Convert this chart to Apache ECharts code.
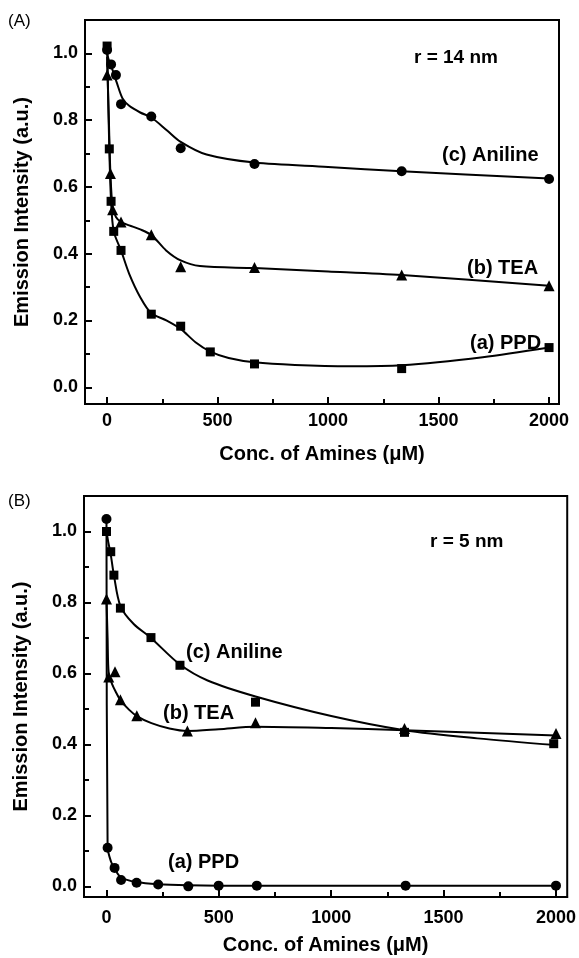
<!DOCTYPE html>
<html>
<head>
<meta charset="utf-8">
<script src="https://cdn.jsdelivr.net/npm/echarts@6/dist/echarts.min.js"></script>
<style>
html,body{margin:0;padding:0;background:#fff;}
#c{width:579px;height:958px;}
</style>
</head>
<body>
<div id="c"></div>
<script>
// ---- tick labels ----
const xMajor = [0, 500, 1000, 1500, 2000];
const xMinor = [250, 750, 1250, 1750];
const yMajor = [0, 0.2, 0.4, 0.6, 0.8, 1.0];
const yMinor = [0.1, 0.3, 0.5, 0.7, 0.9];

// ---- Panel A (r = 14 nm): measured points ----
const aPpdX = [0, 10, 18, 30, 63, 200, 333, 467, 667, 1333, 2000];
const aPpdY = [1.022, 0.714, 0.557, 0.467, 0.41, 0.219, 0.183, 0.106, 0.07, 0.056, 0.119];
const aTeaX = [0, 15, 25, 63, 200, 333, 667, 1333, 2000];
const aTeaY = [0.935, 0.64, 0.532, 0.495, 0.457, 0.361, 0.359, 0.336, 0.304];
const aAniX = [0, 18, 40, 63, 200, 333, 667, 1333, 2000];
const aAniY = [1.01, 0.967, 0.935, 0.848, 0.811, 0.716, 0.669, 0.647, 0.624];
// ---- Panel A: fitted curves ----
const aPpdFitX = [0, 10, 18, 30, 63, 100, 150, 200, 270, 333, 400, 467, 550, 667, 850, 1100, 1333, 1700, 2000];
const aPpdFitY = [1.02, 0.714, 0.557, 0.467, 0.41, 0.34, 0.27, 0.222, 0.2, 0.175, 0.135, 0.107, 0.088, 0.075, 0.067, 0.063, 0.066, 0.09, 0.119];
const aTeaFitX = [0, 8, 15, 25, 40, 63, 100, 150, 202, 267, 333, 420, 667, 1000, 1333, 2000];
const aTeaFitY = [0.99, 0.8, 0.64, 0.54, 0.51, 0.495, 0.485, 0.473, 0.455, 0.41, 0.38, 0.363, 0.357, 0.347, 0.336, 0.304];
const aAniFitX = [0, 10, 25, 45, 70, 100, 150, 200, 270, 333, 450, 667, 1000, 1333, 2000];
const aAniFitY = [1.0, 0.975, 0.95, 0.91, 0.865, 0.843, 0.823, 0.808, 0.77, 0.735, 0.697, 0.673, 0.66, 0.647, 0.625];

// ---- Panel B (r = 5 nm): measured points ----
const bPpdX = [0, 5, 36, 65, 134, 230, 364, 499, 669, 1331, 2000];
const bPpdY = [1.035, 0.109, 0.052, 0.018, 0.01, 0.005, 0.0, 0.002, 0.002, 0.002, 0.002];
const bTeaX = [0, 10, 38, 62, 135, 360, 663, 1326, 2000];
const bTeaY = [0.81, 0.59, 0.605, 0.526, 0.481, 0.438, 0.461, 0.445, 0.431];
const bAniX = [0, 19, 33, 62, 198, 327, 663, 1326, 1990];
const bAniY = [1.0, 0.943, 0.877, 0.784, 0.701, 0.623, 0.519, 0.434, 0.402];
// ---- Panel B: fitted curves ----
const bPpdFitX = [0, 5, 20, 36, 65, 134, 230, 364, 500, 669, 1331, 2000];
const bPpdFitY = [1.035, 0.11, 0.07, 0.05, 0.025, 0.012, 0.006, 0.003, 0.002, 0.002, 0.002, 0.002];
const bTeaFitX = [0, 5, 10, 25, 40, 62, 100, 135, 200, 280, 360, 500, 663, 1000, 1326, 2000];
const bTeaFitY = [0.81, 0.7, 0.6, 0.57, 0.55, 0.525, 0.498, 0.48, 0.46, 0.445, 0.438, 0.443, 0.45, 0.446, 0.44, 0.425];
const bAniFitX = [0, 8, 19, 33, 62, 120, 198, 327, 450, 663, 1000, 1326, 1650, 2000];
const bAniFitY = [1.0, 0.97, 0.935, 0.877, 0.79, 0.74, 0.70, 0.625, 0.58, 0.535, 0.48, 0.44, 0.417, 0.398];

const FONT = '"Liberation Sans", Arial, Helvetica, sans-serif';
const pair = (xs, ys) => xs.map((x, i) => [x, ys[i]]);

const grids = [
  {left: 85, top: 20, width: 474, height: 384},
  {left: 84, top: 496, width: 493, height: 401}
];
const yRange = [[-0.05, 1.1], [-0.03, 1.1]];
const xRange = [[-100, 2045], [-100, 2050]];
const xLabelMargin = [8, 12];
const xNameGap = [40, 38];

const xAxes = [], yAxes = [];
grids.forEach((g, gi) => {
  xAxes.push({
    type: 'value', gridIndex: gi, position: 'bottom', min: xRange[gi][0], max: xRange[gi][1],
    name: 'Conc. of Amines (μM)', nameLocation: 'middle', nameGap: xNameGap[gi],
    nameTextStyle: {fontFamily: FONT, fontWeight: 'bold', fontSize: 20, color: '#000'},
    axisLine: {show: true, onZero: false, lineStyle: {color: '#000', width: 2}},
    axisTick: {show: true, inside: true, length: 7, lineStyle: {color: '#000', width: 2}, customValues: xMajor},
    axisLabel: {show: true, margin: xLabelMargin[gi], fontFamily: FONT, fontWeight: 'bold', fontSize: 18, color: '#000',
      customValues: xMajor, formatter: v => String(v)},
    splitLine: {show: false}
  });
  xAxes.push({
    type: 'value', gridIndex: gi, position: 'bottom', offset: 0, min: xRange[gi][0], max: xRange[gi][1],
    axisLine: {show: false, onZero: false},
    axisTick: {show: true, inside: true, length: 5, lineStyle: {color: '#000', width: 2}, customValues: xMinor},
    axisLabel: {show: false}, splitLine: {show: false}
  });
  yAxes.push({
    type: 'value', gridIndex: gi, position: 'left', min: yRange[gi][0], max: yRange[gi][1],
    name: 'Emission Intensity (a.u.)', nameLocation: 'middle', nameGap: 53,
    nameTextStyle: {fontFamily: FONT, fontWeight: 'bold', fontSize: 20, color: '#000'},
    axisLine: {show: true, onZero: false, lineStyle: {color: '#000', width: 2}},
    axisTick: {show: true, inside: true, length: 7, lineStyle: {color: '#000', width: 2}, customValues: yMajor},
    axisLabel: {show: true, margin: 7, fontFamily: FONT, fontWeight: 'bold', fontSize: 18, color: '#000',
      customValues: yMajor, formatter: v => v.toFixed(1)},
    splitLine: {show: false}
  });
  yAxes.push({
    type: 'value', gridIndex: gi, position: 'left', offset: 0, min: yRange[gi][0], max: yRange[gi][1],
    axisLine: {show: false, onZero: false},
    axisTick: {show: true, inside: true, length: 5, lineStyle: {color: '#000', width: 2}, customValues: yMinor},
    axisLabel: {show: false}, splitLine: {show: false}
  });
});

function curve(gi, xs, ys) {
  return {
    type: 'line', xAxisIndex: gi * 2, yAxisIndex: gi * 2,
    data: pair(xs, ys), smooth: 0.3,
    symbol: 'none', showSymbol: false,
    lineStyle: {color: '#000', width: 2}, z: 3, silent: true
  };
}
function marks(gi, xs, ys, symbol, size) {
  return {
    type: 'scatter', xAxisIndex: gi * 2, yAxisIndex: gi * 2,
    data: pair(xs, ys), symbol: symbol, symbolSize: size,
    itemStyle: {color: '#000', opacity: 1}, z: 4, silent: true
  };
}

const txt = (text, x, y, size, weight, align) => ({
  type: 'text', x: x, y: y,
  style: {text: text, fill: '#000', font: (weight || 'bold') + ' ' + size + 'px ' + FONT,
    textAlign: align || 'left', textVerticalAlign: 'middle'}
});

const option = {
  backgroundColor: '#fff',
  animation: false,
  grid: grids.map(g => Object.assign({show: true, borderColor: '#000', borderWidth: 2, backgroundColor: 'transparent'}, g)),
  xAxis: xAxes,
  yAxis: yAxes,
  series: [
    curve(0, aAniFitX, aAniFitY), marks(0, aAniX, aAniY, 'circle', 10),
    curve(0, aTeaFitX, aTeaFitY), marks(0, aTeaX, aTeaY, 'triangle', 11),
    curve(0, aPpdFitX, aPpdFitY), marks(0, aPpdX, aPpdY, 'rect', 9),
    curve(1, bPpdFitX, bPpdFitY), marks(1, bPpdX, bPpdY, 'circle', 10),
    curve(1, bTeaFitX, bTeaFitY), marks(1, bTeaX, bTeaY, 'triangle', 11),
    curve(1, bAniFitX, bAniFitY), marks(1, bAniX, bAniY, 'rect', 9)
  ],
  graphic: [
    txt('(A)', 8, 21, 17, 'normal'),
    txt('(B)', 8, 501, 17, 'normal'),
    txt('r = 14 nm', 414, 58, 19),
    txt('(c) Aniline', 442, 155, 20),
    txt('(b) TEA', 467, 268, 20),
    txt('(a) PPD', 470, 343, 20),
    txt('r = 5 nm', 430, 542, 19),
    txt('(c) Aniline', 186, 652, 20),
    txt('(b) TEA', 163, 713, 20),
    txt('(a) PPD', 168, 862, 20)
  ]
};

const chart = echarts.init(document.getElementById('c'), null, {renderer: 'canvas'});
chart.setOption(option);
</script>
</body>
</html>
